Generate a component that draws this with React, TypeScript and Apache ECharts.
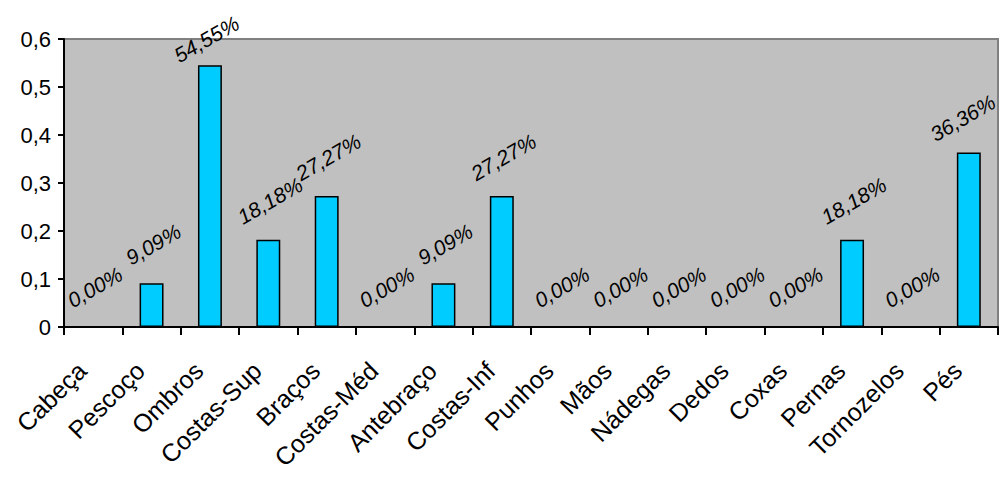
import React, { useEffect, useRef } from "react";
import * as echarts from "echarts";

const categories = [
  "Cabeça", "Pescoço", "Ombros", "Costas-Sup", "Braços", "Costas-Méd", "Antebraço",
  "Costas-Inf", "Punhos", "Mãos", "Nádegas", "Dedos", "Coxas", "Pernas", "Tornozelos", "Pés",
];
const values = [0, 0.0909, 0.5455, 0.1818, 0.2727, 0, 0.0909, 0.2727, 0, 0, 0, 0, 0, 0.1818, 0, 0.3636];
const yMin = 0;
const yMax = 0.6;
const yInterval = 0.1;

const FONT = "'Liberation Sans', Arial, sans-serif";

export default function App() {
  const ref = useRef<HTMLDivElement>(null);
  useEffect(() => {
    if (!ref.current) return;
    const chart = echarts.init(ref.current, undefined, { renderer: "svg" });
    const last = values.length - 1;
    let maxIdx = 0;
    values.forEach((v, i) => { if (v > values[maxIdx]) maxIdx = i; });
    const seriesData = values.map((v, i) => {
      if (i === last) return { value: v, label: { offset: [-7, 0] } };
      if (i === maxIdx) return { value: v, label: { distance: 28, offset: [-4, 0] } };
      return v;
    });
    chart.setOption({
      animation: false,
      grid: {
        left: 64,
        right: 2,
        top: 39,
        bottom: 154,
        show: true,
        backgroundColor: "#C0C0C0",
        borderColor: "#808080",
        borderWidth: 2,
      },
      xAxis: {
        type: "category",
        data: categories,
        boundaryGap: true,
        axisLine: { show: true, lineStyle: { color: "#000", width: 2 } },
        axisTick: { show: true, length: 8, inside: false, alignWithLabel: false, lineStyle: { color: "#000", width: 2 } },
        axisLabel: {
          interval: 0,
          rotate: 45,
          margin: 28,
          padding: [0, 16, 0, 0],
          color: "#000",
          fontSize: 25,
          fontFamily: FONT,
        },
        splitLine: { show: false },
      },
      yAxis: {
        type: "value",
        min: yMin,
        max: yMax,
        interval: yInterval,
        axisLine: { show: true, lineStyle: { color: "#000", width: 2 } },
        axisTick: { show: true, length: 6, lineStyle: { color: "#000", width: 2 } },
        axisLabel: {
          color: "#000",
          fontSize: 22,
          fontFamily: FONT,
          margin: 13,
          formatter: (v: number) => (v === 0 ? "0" : String(Math.round(v * 10) / 10).replace(".", ",")),
        },
        splitLine: { show: false },
      },
      series: [
        {
          type: "bar",
          data: seriesData,
          barWidth: "41%",
          itemStyle: { color: "#00CCFF", borderColor: "#000", borderWidth: 1.5 },
          label: {
            show: true,
            position: "top",
            distance: 38,
            rotate: 30,
            align: "center",
            verticalAlign: "middle",
            offset: [2, 0],
            color: "#000",
            fontSize: 21,
            fontStyle: "italic",
            fontFamily: FONT,
            formatter: (p: any) => (p.value * 100).toFixed(2).replace(".", ",") + "%",
          },
        },
      ],
    });
    return () => chart.dispose();
  }, []);
  return <div ref={ref} style={{ position: "absolute", left: 0, top: 0, width: 1000, height: 481 }} />;
}
